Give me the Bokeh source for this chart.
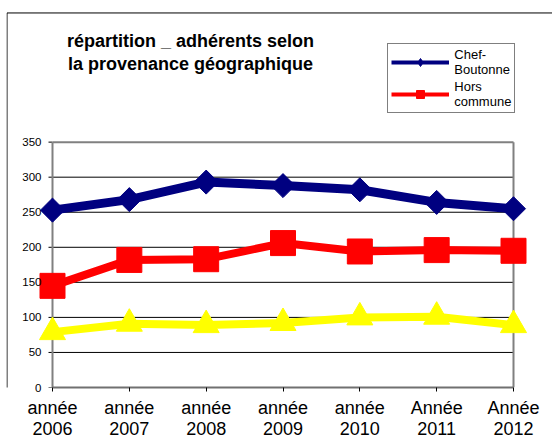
import numpy as np
from bokeh.plotting import figure
from bokeh.models import (Range1d, FixedTicker, Legend, LegendItem, Label,
                          BoxAnnotation)
from bokeh.embed import file_html
from bokeh.resources import INLINE

# ---- data ----
years = ["année\n2006", "année\n2007", "année\n2008", "année\n2009",
         "année\n2010", "Année\n2011", "Année\n2012"]
chef_boutonne = [253, 268, 293, 288, 282, 264, 255]
hors_commune = [145, 182, 183, 206, 194, 196, 195]
autres = [79, 91, 89, 92, 100, 101, 89]
y_ticks = [0, 50, 100, 150, 200, 250, 300, 350]
legend_labels = ["Chef-\nBoutonne", "Hors\ncommune"]
title_text = "répartition _ adhérents selon\nla provenance géographique"

idx = list(range(len(years)))
FONT = "Liberation Sans"

# ---- geometry (canvas pixels) ----
W, H = 552, 441
frame_left, frame_right = 6, 552
x_first_px, x_last_px = 52, 513
px_per_x = (x_last_px - x_first_px) / (len(years) - 1)
x_start = -(x_first_px - frame_left) / px_per_x
x_end = (len(years) - 1) + (frame_right - x_last_px) / px_per_x
bot_b = 53
frame_bottom = H - bot_b
py_per_y = (388.3 - 142.3) / y_ticks[-1]
y_top = frame_bottom / py_per_y

p = figure(width=W, height=H, x_range=Range1d(x_start, x_end),
           y_range=Range1d(0, y_top), output_backend="svg",
           toolbar_location=None, min_border_left=frame_left,
           min_border_right=W - frame_right, min_border_top=0,
           min_border_bottom=bot_b)
p.xgrid.visible = False
p.ygrid.visible = False
p.outline_line_color = None
p.background_fill_color = "white"
p.border_fill_color = "white"

# y axis (labels only; line and ticks drawn below)
ya = p.yaxis[0]
ya.ticker = FixedTicker(ticks=y_ticks)
ya.axis_line_color = None
ya.major_tick_line_color = None
ya.major_tick_out = 0
ya.major_tick_in = 0
ya.minor_tick_line_color = None
ya.major_label_standoff = -35
ya.major_label_text_font = FONT
ya.major_label_text_font_size = "11.5px"
ya.major_label_text_color = "black"

# x axis
xa = p.xaxis[0]
xa.ticker = FixedTicker(ticks=idx)
xa.major_label_overrides = {i: years[i] for i in idx}
xa.bounds = (0, len(years) - 1)
xa.axis_line_color = "#707070"
xa.axis_line_width = 2
xa.major_tick_out = 4
xa.major_tick_in = 0
xa.major_tick_line_color = "black"
xa.minor_tick_line_color = None
xa.major_label_standoff = 6
xa.major_label_text_font = FONT
xa.major_label_text_font_size = "18px"
xa.major_label_text_line_height = 1.05
xa.major_label_text_color = "black"

# grid lines, y axis line and ticks, plot-area border
inner = y_ticks[1:-1]
n_in = len(inner)
p.segment(x0=[0] * n_in, y0=inner, x1=[idx[-1]] * n_in, y1=inner,
          line_color="black", line_width=1)
tick_len = 4 / px_per_x
p.segment(x0=[-tick_len] * len(y_ticks), y0=y_ticks, x1=[0] * len(y_ticks),
          y1=y_ticks, line_color="black", line_width=1)
p.segment(x0=[0, 0, idx[-1]], y0=[0, y_ticks[-1], 0],
          x1=[0, idx[-1], idx[-1]], y1=[y_ticks[-1]] * 3,
          line_color="#808080", line_width=2)

# series
p.line(idx, autres, line_color="#FFFF00", line_width=8)
p.scatter(idx, autres, marker="triangle", size=26, color="#FFFF00")
p.line(idx, hors_commune, line_color="#FF0000", line_width=8)
p.scatter(idx, hors_commune, marker="square", size=25, color="#FF0000")
p.line(idx, chef_boutonne, line_color="#000080", line_width=9)
p.scatter(idx, chef_boutonne, marker="square", angle=np.pi / 4, size=17,
          color="#000080")

# legend proxies (one missing point each, so nothing shows in the plot)
nan = [np.nan]
lb = p.line(nan, nan, line_color="#000080", line_width=4)
mb = p.scatter(nan, nan, marker="diamond", color="#000080")
lr = p.line(nan, nan, line_color="#FF0000", line_width=4)
mr = p.scatter(nan, nan, marker="square", color="#FF0000")
legend = Legend(items=[LegendItem(label=legend_labels[0], renderers=[lb, mb]),
                       LegendItem(label=legend_labels[1], renderers=[lr, mr])],
                location=(387.3 - frame_left, frame_bottom - 113.5),
                padding=3, spacing=2, margin=0, glyph_width=58,
                glyph_height=20, label_standoff=5,
                label_text_font=FONT, label_text_font_size="13px",
                label_text_line_height=1.2, label_text_color="black",
                border_line_color="black", border_line_width=1,
                background_fill_color="white", background_fill_alpha=1)
p.add_layout(legend)

# title
p.add_layout(Label(x=(190 - x_first_px) / px_per_x,
                   y=(frame_bottom - 52.2) / py_per_y,
                   text=title_text, text_align="center",
                   text_baseline="middle", text_font=FONT,
                   text_font_style="bold", text_font_size="18px",
                   text_line_height=1.17, text_color="black"))

# outer chart border (its right and bottom edges lie beyond the page)
p.add_layout(BoxAnnotation(left=(6.5 - x_first_px) / px_per_x, right=20,
                           bottom=-300, top=(frame_bottom - 12.5) / py_per_y,
                           fill_alpha=0, line_color="black", line_width=1,
                           line_alpha=1))

open("out.html", "w").write(file_html(p, INLINE))
